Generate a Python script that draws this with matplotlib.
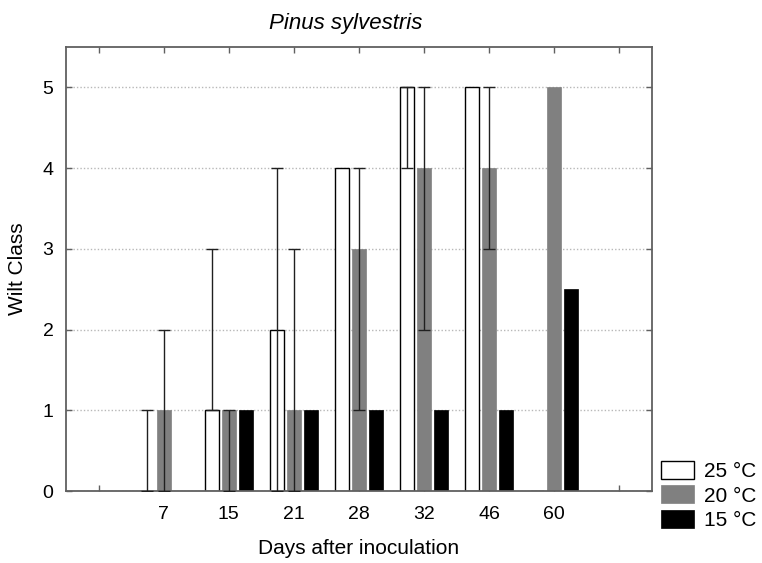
import matplotlib
matplotlib.use('Agg')
import matplotlib.pyplot as plt
import numpy as np

plt.rcParams['font.family'] = ['Liberation Sans', 'DejaVu Sans']

days = ['7', '15', '21', '28', '32', '46', '60']
series_labels = ['25 °C', '20 °C', '15 °C']

# 25 °C
t25 = [0, 1, 2, 4, 5, 5, 0]
t25_min = [0, 1, 0, 4, 4, 5, 0]
t25_max = [1, 3, 4, 4, 5, 5, 0]
# 20 °C
t20 = [1, 1, 1, 3, 4, 4, 5]
t20_min = [0, 0, 0, 1, 2, 3, 5]
t20_max = [2, 1, 3, 4, 5, 5, 5]
# 15 °C
t15 = [0, 1, 1, 1, 1, 1, 2.5]

W, H = 762, 563
fig = plt.figure(figsize=(W / 100, H / 100), dpi=100)
ax = fig.add_axes([66 / W, 1 - 491 / H, (652 - 66) / W, (491 - 47) / H])

x = np.arange(1, len(days) + 1)
off = 0.26
bw = 0.215

b1 = ax.bar(x - off, t25, bw, color='white', edgecolor='black', linewidth=1.0, zorder=2)
b2 = ax.bar(x, t20, bw, color='#808080', edgecolor='#808080', linewidth=0.5, zorder=2)
b3 = ax.bar(x + off, t15, bw, color='black', edgecolor='black', linewidth=0.5, zorder=2)


def draw_err(xs, vals, lo, hi):
    for xi, v, l, h in zip(xs, vals, lo, hi):
        if h > l:
            ax.errorbar([xi], [v], yerr=[[v - l], [h - v]], fmt='none',
                        ecolor='#202020', elinewidth=1.0, capsize=4,
                        capthick=1.0, zorder=3)


draw_err(x - off, t25, t25_min, t25_max)
draw_err(x, t20, t20_min, t20_max)

ax.set_xlim(-0.5, len(days) + 1.5)
ax.set_ylim(0, 5.5)
ax.set_xticks(np.arange(0, len(days) + 2))
ax.set_xticklabels([''] + days + [''])
ax.set_yticks([0, 1, 2, 3, 4, 5])

ax.set_axisbelow(True)
ax.yaxis.grid(True, linestyle=(0, (1, 1.5)), color='#b8b8b8', linewidth=1.0)
ax.xaxis.grid(False)

for s in ax.spines.values():
    s.set_color('#606060')
    s.set_linewidth(1.3)

ax.tick_params(axis='both', which='both', direction='in', length=4, width=1,
               color='#606060', top=True, right=True, labelsize=14)
ax.tick_params(axis='x', pad=11)
ax.tick_params(axis='y', pad=9)

ax.set_title('Pinus sylvestris', fontstyle='italic', fontsize=16, pad=13, x=0.478)
ax.set_xlabel('Days after inoculation', fontsize=15, labelpad=11)
ax.set_ylabel('Wilt Class', fontsize=15, labelpad=11)

leg = fig.legend([b1, b2, b3], series_labels, loc='upper left',
                 bbox_to_anchor=(661 / W, 1 - 461 / H), frameon=False,
                 fontsize=15, handlelength=1.6, handleheight=0.96,
                 labelspacing=0.2, handletextpad=0.48, borderpad=0,
                 borderaxespad=0)

fig.savefig('out.png', dpi=100)
